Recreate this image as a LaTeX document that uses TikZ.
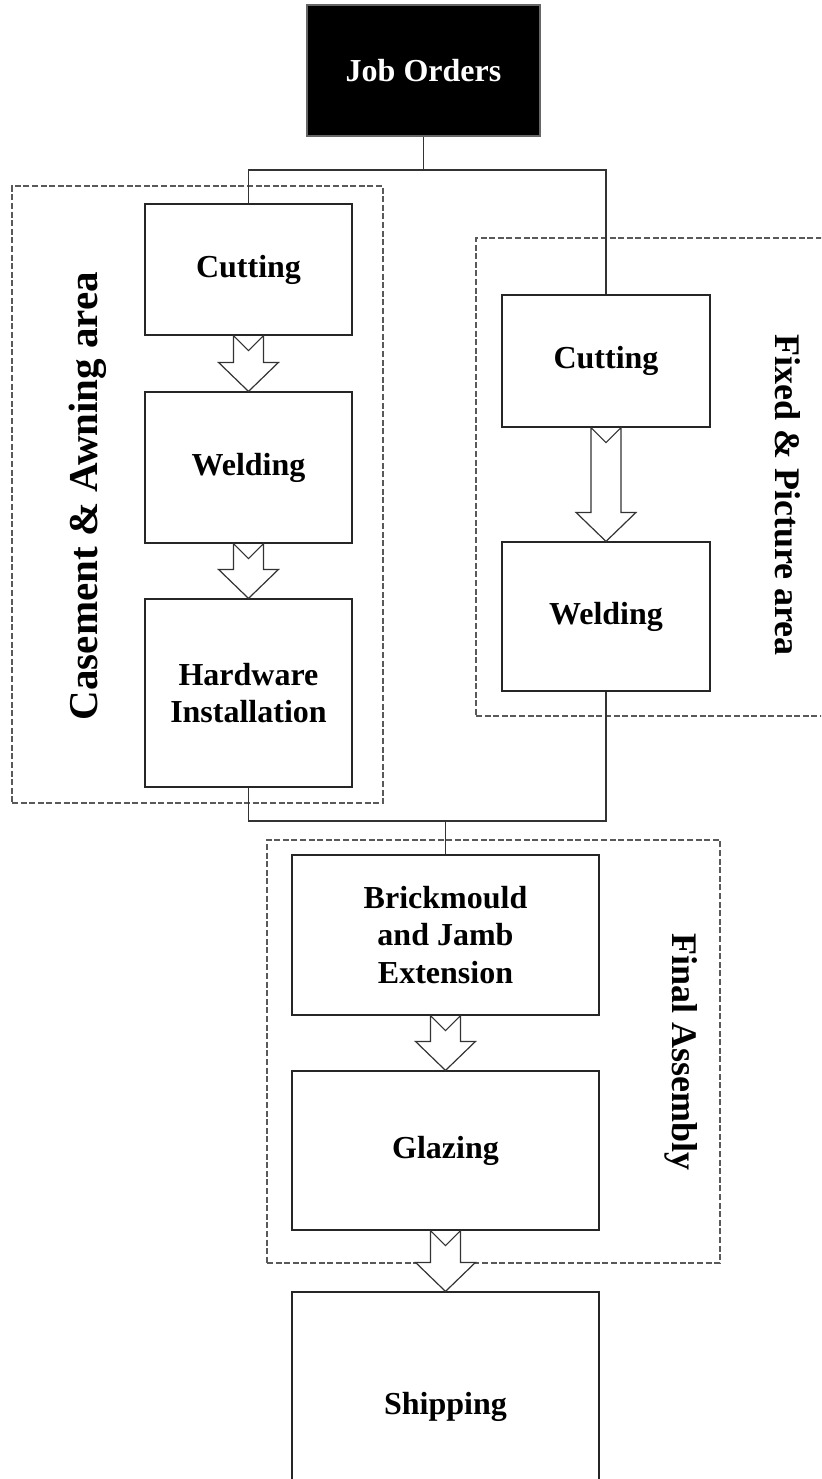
\documentclass[tikz,border=0pt]{standalone}
\usepackage{fontspec}
\setmainfont{Liberation Serif}
\usetikzlibrary{fit,calc}
\tikzset{
  box/.style={draw=black!85, line width=0.6pt, fill=white, inner sep=0pt, align=center,
    font=\fontsize{16}{18.75}\selectfont\bfseries},
  darkbox/.style={box, fill=black, draw=black!60, text=white},
  area/.style={draw=black!65, line width=0.6pt, dash pattern=on 3pt off 1.3pt, inner sep=0pt},
  arealabel/.style={font=\fontsize{18}{21}\selectfont\bfseries, inner sep=0pt},
  conn/.style={draw=black!80, line width=0.6pt},
  barrow/.style={draw=black!80, line width=0.6pt, fill=white, line join=miter}
}
\newcommand\blockarr[2]{%
  \draw[barrow] let \p1=(#1.south), \p2=(#2.north) in
    (\x1-7.5pt,\y1) -- (\x1,\y1-7.5pt) -- (\x1+7.5pt,\y1) -- (\x1+7.5pt,\y2+14.5pt)
    -- (\x1+15pt,\y2+14.5pt) -- (\x1,\y2) -- (\x1-15pt,\y2+14.5pt)
    -- (\x1-7.5pt,\y2+14.5pt) -- cycle;}
\begin{document}
\begin{tikzpicture}[x=0.5pt,y=-0.5pt]
\clip (0,0) rectangle (821,1479);
\fill[white] (0,0) rectangle (821,1479);
% area frames
\node[area, fit={(12,186) (383,803)}] (LA) {};
\node[area, fit={(476,238) (840,716)}] (RA) {};
\node[area, fit={(267,840) (720,1263)}] (FA) {};
% area labels
\node[arealabel, font=\fontsize{20.5}{24}\selectfont\bfseries, rotate=90] (LAl) at (88,496) {Casement \& Awning area};
\node[arealabel, rotate=-90] (RAl) at (788,495) {Fixed \& Picture area};
\node[arealabel, rotate=-90] (FAl) at (681,1052) {Final Assembly};
% process boxes
\node[darkbox, minimum width=116.5pt, minimum height=65.5pt] (JO) at (423.5,70.5) {Job Orders};
\node[box, minimum width=103.5pt, minimum height=65.5pt] (L1) at (248.5,269.5) {Cutting};
\node[box, minimum width=103.5pt, minimum height=75.5pt] (L2) at (248.5,467.5) {Welding};
\node[box, minimum width=103.5pt, minimum height=94pt] (L3) at (248.5,693) {Hardware\\Installation};
\node[box, minimum width=104pt, minimum height=66pt] (R1) at (606,361) {Cutting};
\node[box, minimum width=104pt, minimum height=74.5pt] (R2) at (606,616.5) {Welding};
\node[box, minimum width=153.5pt, minimum height=80pt] (B1) at (445.5,935) {Brickmould\\and Jamb\\Extension};
\node[box, minimum width=153.5pt, minimum height=79.5pt] (B2) at (445.5,1150.5) {Glazing};
\node[box, minimum width=153.5pt, minimum height=115pt] (S) at (445.5,1407) {Shipping};
% connectors
\coordinate (j1) at (423.5,170);
\coordinate (j2) at (445.5,821);
\draw[conn] (JO.south) -- (j1);
\draw[conn] (L1.north) |- (j1) -| (R1.north);
\draw[conn] (L3.south) |- (j2) -| (R2.south);
\draw[conn] (j2) -- (B1.north);
% block arrows
\blockarr{L1}{L2}
\blockarr{L2}{L3}
\blockarr{R1}{R2}
\blockarr{B1}{B2}
\blockarr{B2}{S}
\end{tikzpicture}
\end{document}
